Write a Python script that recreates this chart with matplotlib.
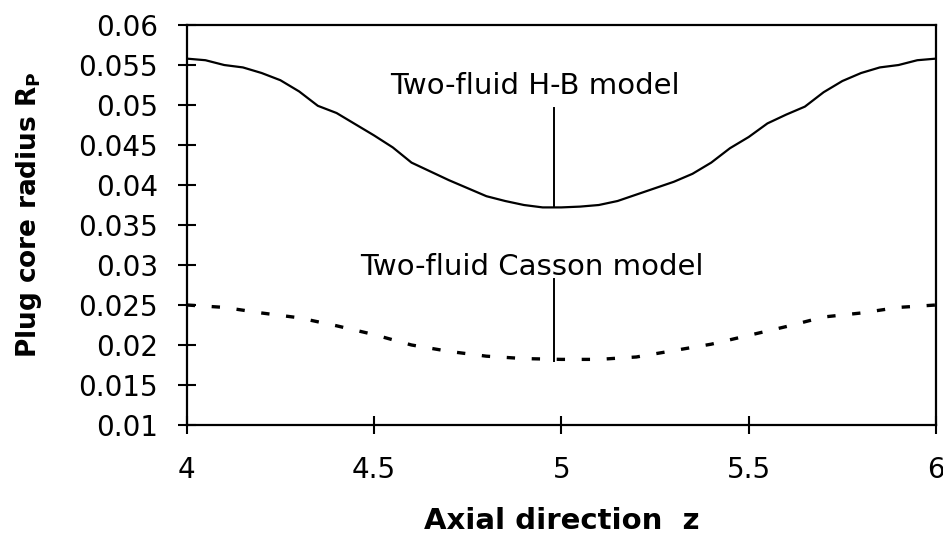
import matplotlib
matplotlib.use("Agg")
import matplotlib.pyplot as plt

z_hb = [4.00, 4.05, 4.10, 4.15, 4.20, 4.25, 4.30, 4.35, 4.40, 4.45, 4.50,
        4.55, 4.60, 4.65, 4.70, 4.75, 4.80, 4.85, 4.90, 4.95, 5.00,
        5.05, 5.10, 5.15, 5.20, 5.25, 5.30, 5.35, 5.40, 5.45, 5.50,
        5.55, 5.60, 5.65, 5.70, 5.75, 5.80, 5.85, 5.90, 5.95, 6.00]
hb = [0.0558, 0.0556, 0.0550, 0.0547, 0.0540, 0.0531, 0.0517, 0.0499, 0.0490, 0.0476, 0.0462,
      0.0447, 0.0428, 0.0417, 0.0406, 0.0396, 0.0386, 0.0380, 0.0375, 0.0372, 0.0372,
      0.0373, 0.0375, 0.0380, 0.0388, 0.0396, 0.0404, 0.0414, 0.0428, 0.0446, 0.0460,
      0.0477, 0.0488, 0.0498, 0.0516, 0.0530, 0.0540, 0.0547, 0.0550, 0.0556, 0.0558]

z_cas = [4.0, 4.1, 4.2, 4.3, 4.4, 4.5, 4.6, 4.7, 4.8, 4.9, 5.0,
         5.1, 5.2, 5.3, 5.4, 5.5, 5.6, 5.7, 5.8, 5.9, 6.0]
casson = [0.0250, 0.0247, 0.0240, 0.0234, 0.0224, 0.0213, 0.0200, 0.0192, 0.0186, 0.0183, 0.0182,
          0.0182, 0.0185, 0.0193, 0.0201, 0.0212, 0.0223, 0.0235, 0.0240, 0.0247, 0.0250]

xticks = [4, 4.5, 5, 5.5, 6]
xticklabels = ["4", "4.5", "5", "5.5", "6"]
yticks = [0.01, 0.015, 0.02, 0.025, 0.03, 0.035, 0.04, 0.045, 0.05, 0.055, 0.06]
yticklabels = ["0.01", "0.015", "0.02", "0.025", "0.03", "0.035", "0.04",
               "0.045", "0.05", "0.055", "0.06"]

hb_label = "Two-fluid H-B model"
casson_label = "Two-fluid Casson model"
hb_pointer = (4.98, 0.0496, 0.0372)
casson_pointer = (4.98, 0.0282, 0.0180)

plt.rcParams['font.family'] = ['DejaVu Sans']
plt.rcParams['mathtext.fontset'] = 'dejavusans'

fig = plt.figure(figsize=(9.43, 5.37), dpi=100)
ax = fig.add_axes([0.198, 0.2086, 0.7946, 0.7448])

ax.plot(z_hb, hb, color='black', lw=1.6)
ax.plot(z_cas, casson, color='black', lw=2.4, linestyle=(0, (2.5, 5)))

ax.plot([hb_pointer[0]] * 2, hb_pointer[1:], color='black', lw=1.4)
ax.plot([casson_pointer[0]] * 2, casson_pointer[1:], color='black', lw=1.4)

ax.text(4.93, 0.0524, hb_label, ha='center', va='center', fontsize=21)
ax.text(4.92, 0.0297, casson_label, ha='center', va='center', fontsize=21)

ax.set_xlim(4, 6)
ax.set_ylim(0.01, 0.06)
ax.set_xticks(xticks)
ax.set_xticklabels(xticklabels)
ax.set_yticks(yticks)
ax.set_yticklabels(yticklabels)
ax.tick_params(axis='both', direction='inout', length=13, width=1.5,
               labelsize=20)
ax.tick_params(axis='y', pad=14)
ax.tick_params(axis='x', pad=16)
for s in ax.spines.values():
    s.set_linewidth(1.6)

ax.set_xlabel("Axial direction  z", fontsize=21, fontweight='bold')
ax.xaxis.set_label_coords(0.5, -0.24)
ax.xaxis.label.set_va('center')
ax.set_ylabel(r"Plug core radius R$_{\bf P}$", fontsize=19, fontweight='bold')
ax.yaxis.set_label_coords(-0.19, 0.525)

fig.savefig("out.png", dpi=100)
